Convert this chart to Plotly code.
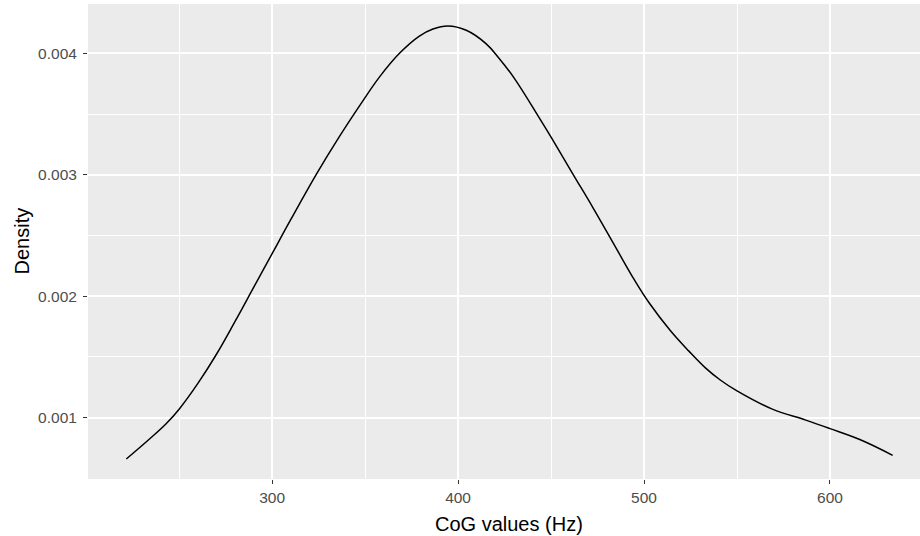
import plotly.graph_objects as go

# Kernel density estimate of CoG values
cog_hz = [221.6, 233, 243, 250, 260, 270, 280, 290, 300, 310, 324, 336, 348,
          358, 368.5, 379, 386.5, 394.5, 404.4, 415, 422, 430, 444, 450, 462,
          472.5, 483, 495, 503, 514, 524, 533, 541, 550, 569, 587, 600, 616,
          633.7]
density = [0.00066, 0.00081, 0.00095, 0.00107, 0.00128, 0.00152, 0.00179,
           0.00207, 0.00235, 0.00263, 0.00301, 0.00331, 0.00359, 0.00381,
           0.00400, 0.00414, 0.00420, 0.004225, 0.00419, 0.00408, 0.00396,
           0.00380, 0.00346, 0.00331, 0.00300, 0.00273, 0.00245, 0.00213,
           0.00194, 0.00172, 0.00155, 0.00141, 0.00131, 0.00122, 0.00107,
           0.00098, 0.00091, 0.00082, 0.00069]

x_ticks = [300, 400, 500, 600]
x_tick_labels = ["300", "400", "500", "600"]
y_ticks = [0.001, 0.002, 0.003, 0.004]
y_tick_labels = ["0.001", "0.002", "0.003", "0.004"]

FONT = "Liberation Sans, Arial, sans-serif"

fig = go.Figure()
fig.add_trace(go.Scatter(
    x=cog_hz, y=density, mode="lines",
    line=dict(color="black", width=1.5, shape="spline", smoothing=1.15),
    hoverinfo="skip", showlegend=False,
))

fig.update_layout(
    width=920, height=536,
    margin=dict(l=88, r=0, t=4, b=57),
    paper_bgcolor="white",
    plot_bgcolor="#EBEBEB",
    font=dict(family=FONT, color="#4D4D4D", size=15),
    xaxis=dict(
        range=[201, 648.4],
        tickvals=x_ticks, ticktext=x_tick_labels,
        showgrid=True, gridcolor="white", gridwidth=1.6,
        zeroline=False, showline=False,
        ticks="outside", ticklen=4, tickwidth=1.1, tickcolor="#333333",
        tickfont=dict(size=15.5, color="#4D4D4D", family=FONT),
        minor=dict(tickvals=[250, 350, 450, 550], showgrid=True,
                   gridcolor="white", gridwidth=0.8, ticks=""),
        fixedrange=True,
    ),
    yaxis=dict(
        range=[0.000495, 0.004406],
        tickvals=y_ticks, ticktext=y_tick_labels,
        showgrid=True, gridcolor="white", gridwidth=1.6,
        zeroline=False, showline=False,
        ticks="outside", ticklen=4, tickwidth=1.1, tickcolor="#333333",
        tickfont=dict(size=15.5, color="#4D4D4D", family=FONT),
        minor=dict(tickvals=[0.0015, 0.0025, 0.0035], showgrid=True,
                   gridcolor="white", gridwidth=0.8, ticks=""),
        ticklabelstandoff=3,
        fixedrange=True,
    ),
    annotations=[
        dict(text="CoG values (Hz)", xref="paper", yref="paper",
             x=0.5066, y=0, yshift=-45, xanchor="center", yanchor="middle",
             showarrow=False, font=dict(size=20, color="black", family=FONT)),
        dict(text="Density", xref="paper", yref="paper",
             x=0, y=0.5, xshift=-67, xanchor="center", yanchor="middle",
             textangle=-90, showarrow=False,
             font=dict(size=20, color="black", family=FONT)),
    ],
)

fig.write_html("out.html")
